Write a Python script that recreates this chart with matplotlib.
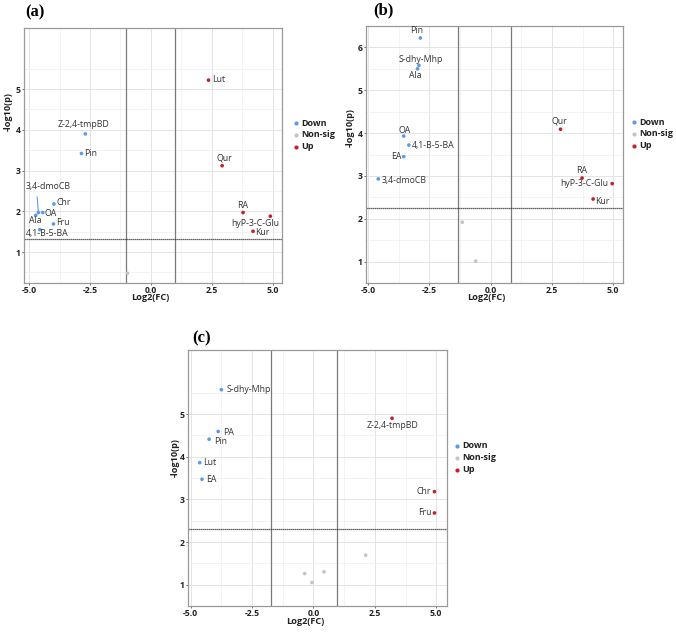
import numpy as np
import matplotlib
matplotlib.use("Agg")
import matplotlib.pyplot as plt
from matplotlib.lines import Line2D

# panel (a)
a_names = ['Lut', 'Z-2,4-tmpBD', 'Pin', 'Qur', '3,4-dmoCB', 'Chr', 'OA', 'Ala',
           'Fru', '4,1-B-5-BA', 'RA', 'hyP-3-C-Glu', 'Kur', '']
a_x = [2.37, -2.69, -2.85, 2.93, -4.62, -3.98, -4.44, -4.73, -4.00, -4.56, 3.79, 4.91, 4.20, -0.96]
a_y = [5.22, 3.90, 3.42, 3.12, 1.97, 2.18, 1.97, 1.90, 1.69, 1.55, 1.97, 1.88, 1.51, 0.48]
a_grp = ['Up', 'Down', 'Down', 'Up', 'Down', 'Down', 'Down', 'Down', 'Down', 'Down',
         'Up', 'Up', 'Up', 'Non-sig']

# panel (b)
b_names = ['Pin', 'S-dhy-Mhp', 'Ala', 'OA', '4,1-B-5-BA', 'EA', '3,4-dmoCB', 'Qur',
           'RA', 'hyP-3-C-Glu', 'Kur', '', '']
b_x = [-2.87, -2.93, -2.99, -3.55, -3.34, -3.55, -4.59, 2.85, 3.73, 4.96, 4.18, -1.16, -0.61]
b_y = [6.22, 5.58, 5.50, 3.93, 3.72, 3.45, 2.93, 4.09, 2.95, 2.82, 2.46, 1.92, 1.01]
b_grp = ['Down', 'Down', 'Down', 'Down', 'Down', 'Down', 'Down', 'Up', 'Up', 'Up', 'Up',
         'Non-sig', 'Non-sig']

# panel (c)
c_names = ['S-dhy-Mhp', 'Z-2,4-tmpBD', 'PA', 'Pin', 'Lut', 'EA', 'Chr', 'Fru', '', '', '', '']
c_x = [-3.75, 3.20, -3.88, -4.25, -4.63, -4.54, 4.93, 4.93, 2.13, -0.36, 0.43, -0.06]
c_y = [5.57, 4.90, 4.59, 4.41, 3.86, 3.47, 3.18, 2.68, 1.69, 1.26, 1.30, 1.05]
c_grp = ['Down', 'Up', 'Down', 'Down', 'Down', 'Down', 'Up', 'Up',
         'Non-sig', 'Non-sig', 'Non-sig', 'Non-sig']

legend_labels = ['Down', 'Non-sig', 'Up']
colors = {'Down': '#5b9bef', 'Non-sig': '#c4c4c4', 'Up': '#c42026'}

# label offsets in pixels (dx, dy, ha)
a_off = {'Lut': (4, 1, 'left'), 'Z-2,4-tmpBD': (-2, 9, 'center'), 'Pin': (3, 0, 'left'),
         'Qur': (2, 8, 'center'), '3,4-dmoCB': (10, 26, 'center'), 'Chr': (3, 1, 'left'),
         'OA': (2, -1, 'left'), 'Ala': (0, -5, 'center'), 'Fru': (3, 1, 'left'),
         '4,1-B-5-BA': (7, -4, 'center'), 'RA': (0, 7, 'center'),
         'hyP-3-C-Glu': (-15, -7, 'center'), 'Kur': (2, -1, 'left')}
b_off = {'Pin': (-4, 7, 'center'), 'S-dhy-Mhp': (2, 6, 'center'), 'Ala': (-2, -7, 'center'),
         'OA': (1, 6, 'center'), '4,1-B-5-BA': (3, 0, 'left'), 'EA': (-2, 0, 'right'),
         '3,4-dmoCB': (3, -2, 'left'), 'Qur': (-1, 8, 'center'), 'RA': (0, 8, 'center'),
         'hyP-3-C-Glu': (-4, 0, 'right'), 'Kur': (2, -2, 'left')}
c_off = {'S-dhy-Mhp': (5, 0, 'left'), 'Z-2,4-tmpBD': (0, -7, 'center'), 'PA': (5, -1, 'left'),
         'Pin': (5, -2, 'left'), 'Lut': (3, 0, 'left'), 'EA': (4, 0, 'left'),
         'Chr': (-3, 0, 'right'), 'Fru': (-3, 0, 'right')}

W, H = 676, 633
fig = plt.figure(figsize=(W / 100, H / 100), dpi=100)
fig.patch.set_facecolor('white')


def panel(box, names, xs, ys, grps, offs, xlim, ylim, yticks, vl, hl, tag, tagxy, legxy, ylabxy, xlabxy):
    l, r, t, b = box
    ax = fig.add_axes([l / W, 1 - b / H, (r - l) / W, (b - t) / H])
    ax.set_xlim(*xlim)
    ax.set_ylim(*ylim)
    ax.set_xticks([-5, -2.5, 0, 2.5, 5])
    ax.set_xticklabels(['-5.0', '-2.5', '0.0', '2.5', '5.0'])
    ax.set_xticks([-3.75, -1.25, 1.25, 3.75], minor=True)
    ax.set_yticks(yticks)
    ax.set_yticklabels([str(v) for v in yticks])
    ax.set_yticks([v + 0.5 for v in range(0, 7)], minor=True)
    ax.grid(which='major', color='#e4e4e4', lw=0.7)
    ax.grid(which='minor', color='#efefef', lw=0.5)
    ax.set_axisbelow(True)
    for s in ax.spines.values():
        s.set_color('#9a9a9a')
        s.set_linewidth(0.9)
    ax.tick_params(which='major', length=1.5, width=0.6, color='#555555', pad=1)
    ax.tick_params(axis='x', pad=0.5)
    ax.tick_params(which='minor', length=0)
    for lab in ax.get_xticklabels() + ax.get_yticklabels():
        lab.set_fontfamily('Open Sans')
        lab.set_fontweight('bold')
        lab.set_fontsize(6.2)
        lab.set_color('#222222')
    for v in vl:
        ax.axvline(v, color='#7a7a7a', lw=0.9, zorder=1)
    ax.axhline(hl, color='#333333', lw=0.9, ls=(0, (1, 0.6)), zorder=1)
    ax.scatter(xs, ys, s=7, c=[colors[g] for g in grps], linewidths=0, zorder=3)
    for n, x, y in zip(names, xs, ys):
        if n in offs:
            dx, dy, ha = offs[n]
            ax.annotate(n, (x, y), xytext=(dx, dy), textcoords='offset pixels',
                        ha=ha, va='center', fontsize=6.3, family='Open Sans', color='#333333')
    fig.text(tagxy[0] / W, 1 - tagxy[1] / H, tag, ha='center', va='center',
             family='Liberation Serif', fontweight='bold', fontsize=12)
    fig.text(ylabxy[0] / W, 1 - ylabxy[1] / H, '-log10(p)', rotation=90, ha='center', va='center',
             family='Open Sans', fontweight='bold', fontsize=6.6, color='#222222')
    fig.text(xlabxy[0] / W, 1 - xlabxy[1] / H, 'Log2(FC)', ha='center', va='center',
             family='Open Sans', fontweight='bold', fontsize=6.6, color='#222222')
    for i, g in enumerate(legend_labels):
        yy = 1 - (legxy[1] + i * 11.8) / H
        fig.add_artist(Line2D([legxy[0] / W], [yy], marker='o', ms=3, mew=0, color=colors[g],
                              transform=fig.transFigure))
        fig.text((legxy[0] + 5) / W, yy, g, ha='left', va='center', family='Open Sans',
                 fontweight='bold', fontsize=6.5, color='#222222')
    return ax


ax_a = panel((24, 282, 28, 283), a_names, a_x, a_y, a_grp, a_off, (-5.21, 5.39), (0.24, 5.44),
             [1, 2, 3, 4, 5], [-1, 1], 1.31, '(a)', (35, 12), (296, 123), (8, 112), (150, 298))
# connector for the 3,4-dmoCB label
ax_a.plot([-4.62, -4.67], [1.97, 2.35], color=colors['Down'], lw=0.8, zorder=2)

panel((366, 623, 26, 283), b_names, b_x, b_y, b_grp, b_off, (-5.09, 5.40), (0.75, 6.48),
      [1, 2, 3, 4, 5, 6], [-1.34, 0.81], 2.26, '(b)', (383, 10), (634, 122), (350, 128), (486, 298))

panel((188, 447, 350, 606), c_names, c_x, c_y, c_grp, c_off, (-5.11, 5.44), (0.83, 5.79),
      [1, 2, 3, 4, 5], [-1.73, 0.97], 2.31, '(c)', (202, 338), (457, 446), (175, 458), (305, 622))

fig.savefig('out.png', dpi=100, facecolor='white')
